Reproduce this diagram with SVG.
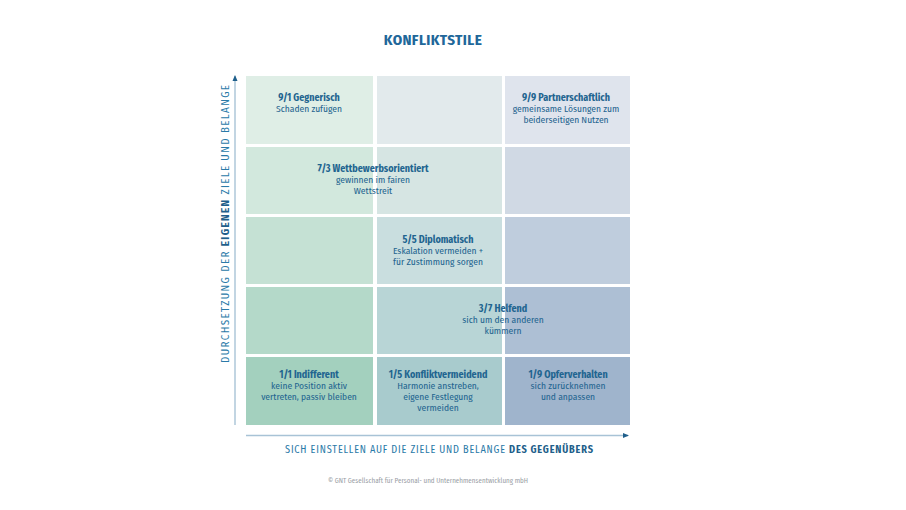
<svg xmlns="http://www.w3.org/2000/svg" width="906" height="510" viewBox="0 0 906 510">
<style>
text{font-family:"Fira Sans Condensed","Noto Sans","Liberation Sans",sans-serif;fill:#1f6590;text-anchor:middle}
.h{font-size:10px;font-weight:bold}
.t{font-size:9.5px}
.title{font-size:15px;font-weight:bold;fill:#21679a;letter-spacing:0.4px}
.ax{font-size:10.2px;fill:#2a7aa8}
.ay{font-size:11px;fill:#2a7aa8}
.axb{font-weight:bold;fill:#1f5f8b}
.copy{font-size:7px;fill:#9aa0a6}
.axis{stroke:#a8c3d6;stroke-width:1.4;fill:none}
</style>
<defs>
<marker id="ah" viewBox="0 0 6 6" refX="5" refY="3" markerWidth="6" markerHeight="6" orient="auto" markerUnits="userSpaceOnUse">
<path d="M0,0.5 L6,3 L0,5.5 Z" fill="#1f5f8b"/>
</marker>
</defs>
<rect width="906" height="510" fill="#ffffff"/>
<text class="title" x="433" y="45">KONFLIKTSTILE</text>
<g id="cells">
<rect id="c11" x="246" y="76" width="127" height="68" fill="#dfeee6"/>
<rect id="c12" x="377" y="76" width="125" height="68" fill="#e2eaec"/>
<rect id="c13" x="505" y="76" width="125" height="68" fill="#dfe4ed"/>
<rect id="c21" x="246" y="147" width="127" height="67" fill="#d2e8dd"/>
<rect id="c22" x="377" y="147" width="125" height="67" fill="#d6e5e3"/>
<rect id="c23" x="505" y="147" width="125" height="67" fill="#d0d9e4"/>
<rect id="c31" x="246" y="217" width="127" height="67" fill="#c5e1d4"/>
<rect id="c32" x="377" y="217" width="125" height="67" fill="#c9dedf"/>
<rect id="c33" x="505" y="217" width="125" height="67" fill="#bfcddd"/>
<rect id="c41" x="246" y="287" width="127" height="67" fill="#b4d9c9"/>
<rect id="c42" x="377" y="287" width="125" height="67" fill="#b8d5d6"/>
<rect id="c43" x="505" y="287" width="125" height="67" fill="#adbfd4"/>
<rect id="c51" x="246" y="357" width="127" height="68" fill="#a3d0be"/>
<rect id="c52" x="377" y="357" width="125" height="68" fill="#a8cbcd"/>
<rect id="c53" x="505" y="357" width="125" height="68" fill="#9fb4cc"/>
</g>
<g id="n91">
<text class="h" x="309" y="101">9/1 Gegnerisch</text>
<text class="t" x="309" y="112">Schaden zufügen</text>
</g>
<g id="n99">
<text class="h" x="566" y="101">9/9 Partnerschaftlich</text>
<text class="t" x="566" y="112">gemeinsame Lösungen zum</text>
<text class="t" x="566" y="123">beiderseitigen Nutzen</text>
</g>
<g id="n73">
<text class="h" x="373" y="172">7/3 Wettbewerbsorientiert</text>
<text class="t" x="373" y="183">gewinnen im fairen</text>
<text class="t" x="373" y="194">Wettstreit</text>
</g>
<g id="n55">
<text class="h" x="438" y="243">5/5 Diplomatisch</text>
<text class="t" x="438" y="254">Eskalation vermeiden +</text>
<text class="t" x="438" y="265">für Zustimmung sorgen</text>
</g>
<g id="n37">
<text class="h" x="503" y="312">3/7 Helfend</text>
<text class="t" x="503" y="323">sich um den anderen</text>
<text class="t" x="503" y="334">kümmern</text>
</g>
<g id="n11">
<text class="h" x="309" y="378">1/1 Indifferent</text>
<text class="t" x="309" y="389">keine Position aktiv</text>
<text class="t" x="309" y="400">vertreten, passiv bleiben</text>
</g>
<g id="n15">
<text class="h" x="438" y="378">1/5 Konfliktvermeidend</text>
<text class="t" x="438" y="389">Harmonie anstreben,</text>
<text class="t" x="438" y="400">eigene Festlegung</text>
<text class="t" x="438" y="411">vermeiden</text>
</g>
<g id="n19">
<text class="h" x="568" y="378">1/9 Opferverhalten</text>
<text class="t" x="568" y="389">sich zurücknehmen</text>
<text class="t" x="568" y="400">und anpassen</text>
</g>
<g id="connectors">
<line class="axis" x1="235" y1="425" x2="235" y2="76" marker-end="url(#ah)"/>
<line class="axis" x1="246" y1="435.5" x2="628" y2="435.5" marker-end="url(#ah)"/>
</g>
<text class="ax" x="439" y="453" textLength="308" lengthAdjust="spacing">SICH EINSTELLEN AUF DIE ZIELE UND BELANGE <tspan class="axb">DES GEGENÜBERS</tspan></text>
<text class="ay" transform="translate(229,224) rotate(-90)" x="0" y="0" textLength="278" lengthAdjust="spacing">DURCHSETZUNG DER <tspan class="axb">EIGENEN</tspan> ZIELE UND BELANGE</text>
<text class="copy" x="428" y="483">© GNT Gesellschaft für Personal- und Unternehmensentwicklung mbH</text>
</svg>
